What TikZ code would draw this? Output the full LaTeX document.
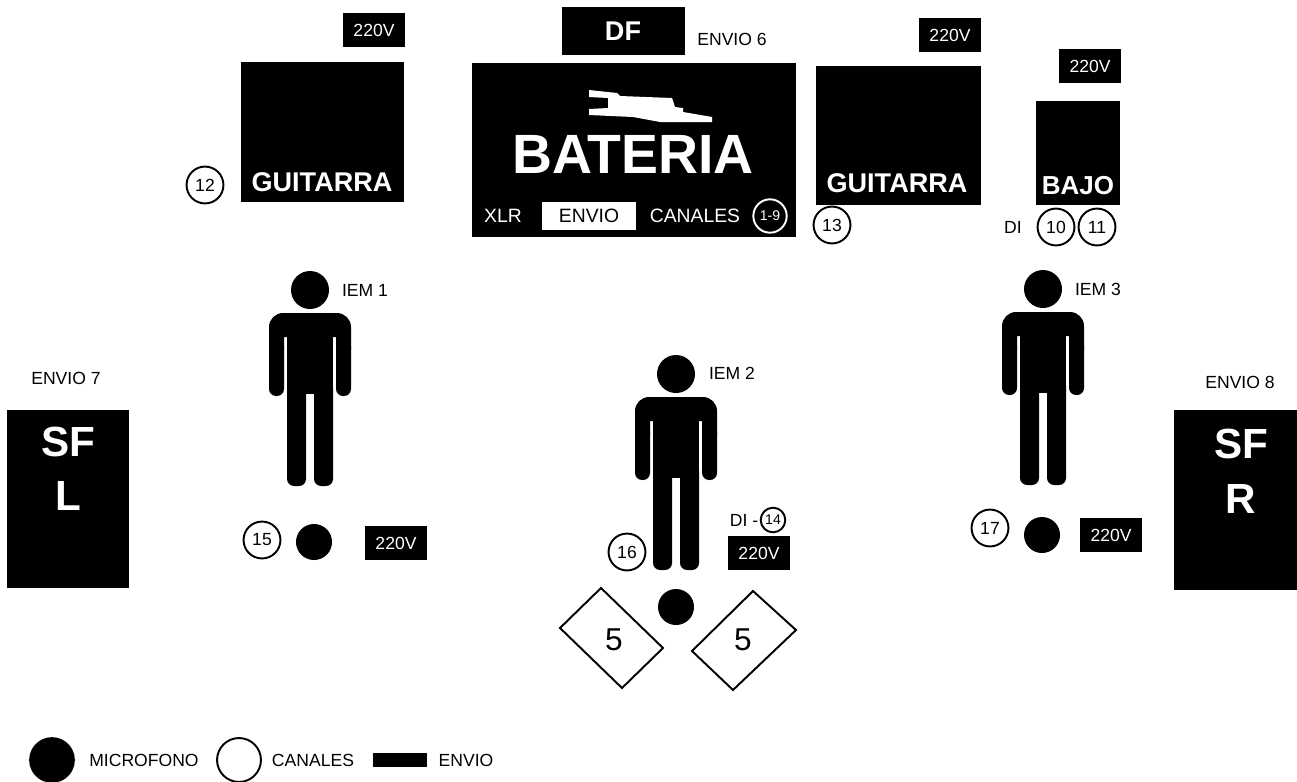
\documentclass[tikz,border=0pt]{standalone}
\usepackage{fontspec}
\setmainfont{Liberation Sans}
\usepackage{tikz}
\usetikzlibrary{calc,positioning,shapes.geometric}
\tikzset{
  blackbox/.style={fill=black,draw=none,inner sep=0pt},
  plug/.style={fill=black,text=white,font=\fontsize{10}{11}\selectfont,minimum width=35.5pt,minimum height=19.5pt,inner sep=0pt},
  canal/.style={circle,draw=black,line width=1.1pt,fill=white,font=\fontsize{10}{11}\selectfont,inner sep=0pt,minimum size=21pt},
  mic/.style={circle,fill=black,inner sep=0pt,minimum size=20.5pt},
  rotulo/.style={font=\fontsize{10}{11}\selectfont,inner sep=0pt},
  amp/.style={text=white,font=\bfseries\fontsize{15.4}{17}\selectfont,inner sep=0pt},
  sflabel/.style={text=white,font=\bfseries\fontsize{24}{26}\selectfont,inner sep=0pt},
  cinco/.style={font=\fontsize{18}{20}\selectfont,inner sep=0pt},
  person/.pic={
    \fill[black] (0,0) circle (19);
    \fill[black] (-41,60) [rounded corners=8pt] -- (-41,23) -- (41,23) [sharp corners] -- (41,60) -- (26,60) -- (26,47) -- (-26,47) -- (-26,60) -- cycle;
    \fill[black,rounded corners=4pt] (-41,50) rectangle (-26,106);
    \fill[black,rounded corners=4pt] (26,50) rectangle (41,106);
    \fill[black] (-23,30) rectangle (23,104);
    \fill[black,rounded corners=4pt] (-23,90) rectangle (-4,196);
    \fill[black,rounded corners=4pt] (4,90) rectangle (23,196);
  }
}
\begin{document}
\begin{tikzpicture}[x=0.02cm,y=-0.02cm]
  \useasboundingbox (0,0) rectangle (1297,781);
  % escenario, fondo
  \node[blackbox,minimum width=93pt,minimum height=80pt] (guitarra1) at (322.5,132) {};
  \node[amp] (lblguitarra1) at (322,182) {GUITARRA};
  \node[plug] (plug1) at (374,30) {220V};
  \node[canal] (c12) at (205,185) {12};
  \node[blackbox,minimum width=70pt,minimum height=27.5pt] (df) at (623,31) {};
  \node[text=white,font=\bfseries\fontsize{15.4}{17}\selectfont] (lbldf) at (623,31) {DF};
  \node[rotulo] (envio6) at (732,39) {ENVIO 6};
  \node[blackbox,minimum width=184pt,minimum height=99pt] (bateria) at (634,150) {};
  \fill[white] (589,90) -- (617,93) -- (620,96) -- (672,98) -- (675,107) -- (683,108) -- (683,112) -- (712,117) -- (712,122) -- (660,122) -- (633,117) -- (589,115) -- (589,109) -- (608,108) -- (608,98) -- (589,97) -- cycle;
  \node[text=white,font=\bfseries\fontsize{31.5}{33}\selectfont,inner sep=0pt] (lblbateria) at (633,154) {BATERIA};
  \node[text=white,font=\fontsize{11}{12}\selectfont,inner sep=0pt] (xlr) at (503,216) {XLR};
  \node[fill=white,minimum width=53pt,minimum height=16.5pt,inner sep=0pt,font=\fontsize{11}{12}\selectfont] (envio) at (589,216) {ENVIO};
  \node[text=white,font=\fontsize{11}{12}\selectfont,inner sep=0pt] (canales) at (695,216) {CANALES};
  \node[circle,draw=white,line width=1.1pt,text=white,font=\fontsize{8}{9}\selectfont,inner sep=0pt,minimum size=19pt] (c19) at (770,216) {1-9};
  \node[blackbox,minimum width=94pt,minimum height=79pt] (guitarra2) at (898.5,135.5) {};
  \node[amp] (lblguitarra2) at (897,183) {GUITARRA};
  \node[plug] (plug2) at (950,35) {220V};
  \node[canal] (c13) at (832,225) {13};
  \node[plug] (plug3) at (1090,66) {220V};
  \node[blackbox,minimum width=48pt,minimum height=59pt] (bajo) at (1078,153) {};
  \node[amp,font=\bfseries\fontsize{14.8}{16}\selectfont] (lblbajo) at (1078,186) {BAJO};
  \node[rotulo] (di) at (1013,227) {DI};
  \node[canal] (c10) at (1056,227) {10};
  \node[canal] (c11) at (1097,227) {11};
  % musicos
  \pic at (310,290) {person};
  \node[rotulo] (iem1) at (365,290) {IEM 1};
  \node[canal] (c15) at (262,540) {15};
  \node[mic] (mic1) at (314,542) {};
  \node[plug] (plug4) at (396,543) {220V};
  \pic at (676,374) {person};
  \node[rotulo] (iem2) at (732,373) {IEM 2};
  \node[canal] (c16) at (627,552) {16};
  \node[rotulo] (di2) at (744,520) {DI -};
  \node[canal,minimum size=14pt,font=\fontsize{8}{9}\selectfont] (c14) at (773,520) {14};
  \node[plug] (plug5) at (759,553) {220V};
  \node[mic] (mic2) at (676,607) {};
  \draw[line width=1.1pt] (560,628) -- (601,588) -- (663,648) -- (622,688) -- cycle;
  \node[cinco] (n5a) at (614,640) {5};
  \draw[line width=1.1pt] (692,651) -- (753,591) -- (796,630) -- (733,690) -- cycle;
  \node[cinco] (n5b) at (743,640) {5};
  \pic at (1043,289) {person};
  \node[rotulo] (iem3) at (1098,289) {IEM 3};
  \node[canal] (c17) at (990,528) {17};
  \node[mic] (mic3) at (1042,535) {};
  \node[plug] (plug6) at (1111,535) {220V};
  % side fill
  \node[rotulo] (envio7) at (66,378) {ENVIO 7};
  \node[blackbox,minimum width=69.5pt,minimum height=101pt] (sfl) at (68,499) {};
  \node[sflabel] (lblsf1) at (68,442) {SF};
  \node[sflabel] (lbll) at (68,496) {L};
  \node[rotulo] (envio8) at (1240,382) {ENVIO 8};
  \node[blackbox,minimum width=70pt,minimum height=102pt] (sfr) at (1235.5,500) {};
  \node[sflabel] (lblsf2) at (1241,444) {SF};
  \node[sflabel] (lblr) at (1241,499) {R};
  % leyenda
  \node[mic,minimum size=26pt] (legmic) at (52,760) {};
  \node[rotulo] (legmictxt) at (144,760) {MICROFONO};
  \node[canal,minimum size=25pt] (legcanal) at (239,760) {};
  \node[rotulo] (legcanaltxt) at (313,760) {CANALES};
  \node[blackbox,minimum width=31pt,minimum height=8pt] (legenvio) at (400,760) {};
  \node[rotulo] (legenviotxt) at (466,760) {ENVIO};
\end{tikzpicture}
\end{document}
